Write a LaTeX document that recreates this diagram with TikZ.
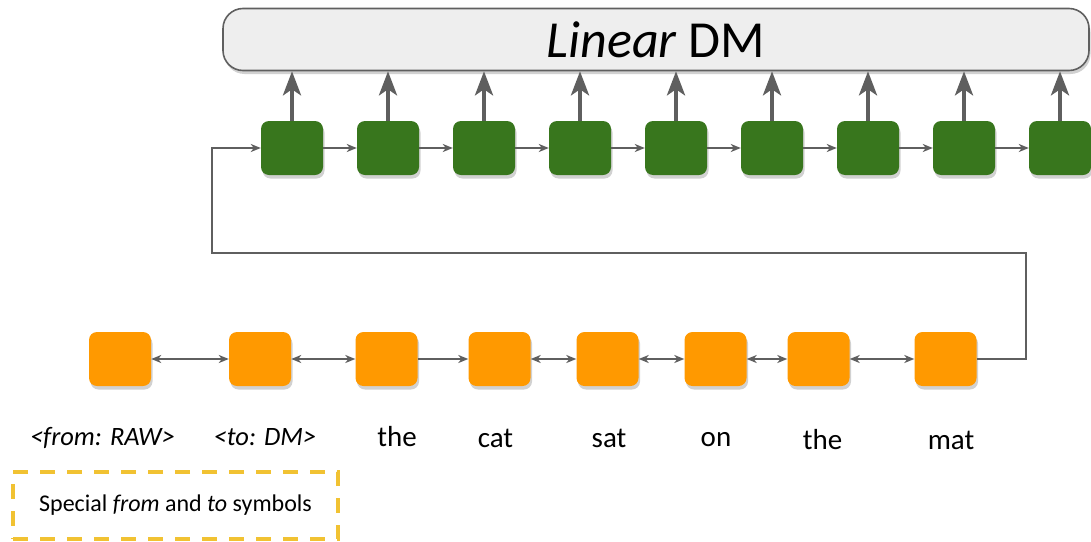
\documentclass[tikz,border=0pt]{standalone}
\usepackage{fontspec}
\setmainfont{Carlito}
\usepackage{xcolor}
\usetikzlibrary{arrows.meta,shadows}
\definecolor{cGreen}{HTML}{38761D}
\definecolor{cOrange}{HTML}{FF9900}
\definecolor{cGold}{HTML}{F1C232}
\definecolor{cLine}{HTML}{5F5F5F}
\definecolor{cPanel}{HTML}{EEEEEE}
\newcommand{\fsz}[1]{\fontsize{#1}{#1}\selectfont}

\begin{document}
\begin{tikzpicture}[
  x=1pt, y=-1pt,
  >={Stealth[length=10pt, width=8pt, inset=3pt]},
  shade/.style={drop shadow={shadow xshift=1.5pt, shadow yshift=-3.5pt, opacity=0.18, fill=black}},
  cell/.style={rounded corners=8pt, minimum width=62pt, minimum height=54pt,
               inner sep=0pt, shade},
  enc/.style={cell, fill=cOrange},
  dec/.style={cell, fill=cGreen},
  panel/.style={draw=cLine, line width=1.6pt, fill=cPanel, rounded corners=20pt,
                minimum width=866pt, minimum height=62pt, inner sep=0pt,
                font=\fsz{52}, shade},
  legend/.style={draw=cGold, line width=3.5pt, dash pattern=on 15pt off 12pt,
                 minimum width=325pt, minimum height=67pt, inner sep=0pt,
                 font=\fsz{24}},
  flow/.style={->, draw=cLine, line width=2pt},
  biflow/.style={<->, draw=cLine, line width=2pt},
  up/.style={-{Stealth[length=24pt, width=18pt, inset=6pt]}, draw=cLine, line width=4pt},
  word/.style={font=\fsz{29}, anchor=base},
  sym/.style={font=\fsz{26.5}\itshape, anchor=base},
]
\useasboundingbox (0,0) rectangle (1091,541);

% ---- decoder on top
\node[panel] (dm) at (656,39.5) {\textit{Linear} DM};

\node[dec] (g1) at (292,148) {};
\node[dec] (g2) at (388,148) {};
\node[dec] (g3) at (484,148) {};
\node[dec] (g4) at (580,148) {};
\node[dec] (g5) at (676,148) {};
\node[dec] (g6) at (772,148) {};
\node[dec] (g7) at (868,148) {};
\node[dec] (g8) at (964,148) {};
\node[dec] (g9) at (1060,148) {};
\draw[flow] (g1) -- (g2);
\draw[flow] (g2) -- (g3);
\draw[flow] (g3) -- (g4);
\draw[flow] (g4) -- (g5);
\draw[flow] (g5) -- (g6);
\draw[flow] (g6) -- (g7);
\draw[flow] (g7) -- (g8);
\draw[flow] (g8) -- (g9);

% outputs up into the panel
\draw[up] (g1.north) -- (g1.north |- dm.south);
\draw[up] (g2.north) -- (g2.north |- dm.south);
\draw[up] (g3.north) -- (g3.north |- dm.south);
\draw[up] (g4.north) -- (g4.north |- dm.south);
\draw[up] (g5.north) -- (g5.north |- dm.south);
\draw[up] (g6.north) -- (g6.north |- dm.south);
\draw[up] (g7.north) -- (g7.north |- dm.south);
\draw[up] (g8.north) -- (g8.north |- dm.south);
\draw[up] (g9.north) -- (g9.north |- dm.south);

% ---- encoder below
\node[enc] (o1) at (120,359) {};
\node[enc] (o2) at (260,359) {};
\node[enc] (o3) at (386.5,359) {};
\node[enc] (o4) at (499.5,359) {};
\node[enc] (o5) at (607.5,359) {};
\node[enc] (o6) at (715.5,359) {};
\node[enc] (o7) at (818.5,359) {};
\node[enc] (o8) at (945.5,359) {};
\draw[biflow] (o1) -- (o2);
\draw[biflow] (o2) -- (o3);
\draw[flow] (o3) -- (o4);
\draw[biflow] (o4) -- (o5);
\draw[biflow] (o5) -- (o6);
\draw[biflow] (o6) -- (o7);
\draw[biflow] (o7) -- (o8);

\node[sym] (w1) at (102.5,445) {<from: RAW>};
\node[sym] (w2) at (265,445) {<to: DM>};
\node[word] (w3) at (397,446) {the};
\node[word] (w4) at (495.5,447) {cat};
\node[word] (w5) at (609,447) {sat};
\node[word] (w6) at (716,446) {on};
\node[word] (w7) at (822.5,449) {the};
\node[word] (w8) at (951,449) {mat};

% last encoder state feeds the first decoder cell
\coordinate (loopR) at (1026,253);
\coordinate (loopL) at (212,253);
\draw[flow] (o8.east) -| (loopR) -- (loopL) |- (g1.west);

\node[legend] (note) at (175.5,505.5) {Special \textit{from} and \textit{to} symbols};
\end{tikzpicture}
\end{document}
